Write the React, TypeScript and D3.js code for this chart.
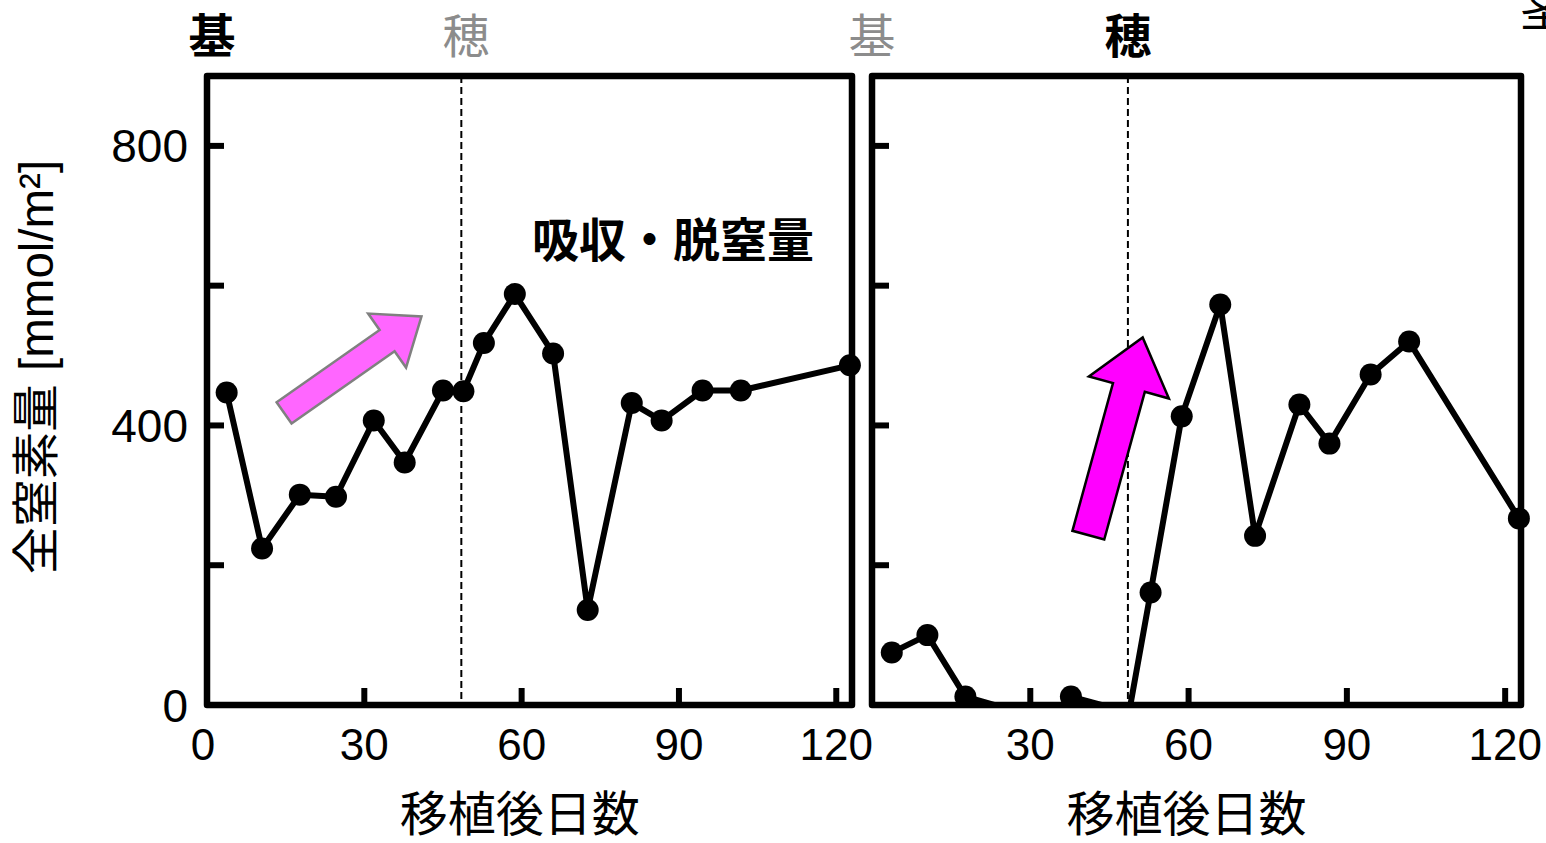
import React from 'react';
import * as d3 from 'd3';

// ---- data ----
const days = [3.75, 10.5, 17.7, 24.6, 31.8, 37.7, 45, 48.9, 52.8, 58.7, 66, 72.6, 81, 86.7, 94.5, 101.8, 122.6];
const stemValues = [447, 224, 301, 298, 407, 347, 450, 449, 518, 588, 503, 136, 432, 407, 450, 450, 486];
const panicleValues = [75, 100, 12, -3, -30, 12, -3, -3, 161, 413, 573, 242, 430, 374, 473, 520, 267];
const xTicks = [0, 30, 60, 90, 120];
const yTicks = [200, 400, 600, 800];
const yTickLabels = [0, 400, 800];
const headingDay = 48.5;
const xDomain = [0, 123];
const yDomain = [0, 900];

const W = 1546;
const H = 843;
const TOP = 76;
const BOTTOM = 705;
const CJK = '"Noto Sans CJK JP", "Noto Sans CJK SC", sans-serif';
const LAT = '"Liberation Sans", Arial, "Noto Sans CJK JP", sans-serif';

type Arrow = { from: [number, number]; to: [number, number]; shaft: number; headW: number; headL: number; fill: string; stroke: string };

const panels = [
  { id: 'stem', x0: 207, x1: 852, values: stemValues, yLabels: true, xLabelTicks: [0, 30, 60, 90, 120],
    arrow: { from: [14.7, 418], to: [40.9, 556], shaft: 26, headW: 66, headL: 42, fill: '#ff66ff', stroke: '#808080' } as Arrow },
  { id: 'panicle', x0: 872, x1: 1521, values: panicleValues, yLabels: false, xLabelTicks: [30, 60, 90, 120],
    arrow: { from: [41.0, 243], to: [51.3, 526], shaft: 33, headW: 83, headL: 52, fill: '#ff00ff', stroke: '#000000' } as Arrow },
];

function arrowPath(x: d3.ScaleLinear<number, number>, y: d3.ScaleLinear<number, number>, a: Arrow) {
  const tx = x(a.from[0]), ty = y(a.from[1]);
  const px = x(a.to[0]), py = y(a.to[1]);
  const len = Math.hypot(px - tx, py - ty);
  const ux = (px - tx) / len, uy = (py - ty) / len;
  const nx = -uy, ny = ux;
  const bx = px - ux * a.headL, by = py - uy * a.headL;
  const s = a.shaft / 2, h = a.headW / 2;
  const pts: [number, number][] = [
    [tx + nx * s, ty + ny * s],
    [bx + nx * s, by + ny * s],
    [bx + nx * h, by + ny * h],
    [px, py],
    [bx - nx * h, by - ny * h],
    [bx - nx * s, by - ny * s],
    [tx - nx * s, ty - ny * s],
  ];
  return 'M' + pts.map(p => p.join(',')).join('L') + 'Z';
}

export default function App() {
  const y = d3.scaleLinear().domain(yDomain).range([BOTTOM, TOP]);
  return (
    <svg width={W} height={H} style={{ position: 'absolute', left: 0, top: 0, background: '#fff' }}>
      <defs>
        <clipPath id="plotclip">
          <rect x={0} y={0} width={W} height={BOTTOM - 3} />
        </clipPath>
      </defs>

      {/* header labels */}
      <text x={212} y={53} textAnchor="middle" fontFamily={CJK} fontWeight="bold" fontSize={47} fill="#000">基</text>
      <text x={466} y={53} textAnchor="middle" fontFamily={CJK} fontSize={47} fill="#8c8c8c">穂</text>
      <text x={872} y={53} textAnchor="middle" fontFamily={CJK} fontSize={47} fill="#8c8c8c">基</text>
      <text x={1128} y={53} textAnchor="middle" fontFamily={CJK} fontWeight="bold" fontSize={47} fill="#000">穂</text>
      <text x={1520} y={26} fontFamily={CJK} fontSize={48} fill="#000">茎</text>

      {panels.map(p => {
        const x = d3.scaleLinear().domain(xDomain).range([p.x0, p.x1]);
        const pts = days.map((d, i) => [d, p.values[i]] as [number, number]);
        const line = d3.line<[number, number]>().x(d => x(d[0])).y(d => y(d[1]));
        return (
          <g key={p.id}>
            {/* heading date dashed line */}
            <line x1={x(headingDay)} x2={x(headingDay)} y1={TOP} y2={BOTTOM} stroke="#000" strokeWidth={2} strokeDasharray="7,4" />
            {/* arrow */}
            <path d={arrowPath(x, y, p.arrow)} fill={p.arrow.fill} stroke={p.arrow.stroke} strokeWidth={2.5} strokeLinejoin="miter" />
            {/* frame */}
            <rect x={p.x0} y={TOP} width={p.x1 - p.x0} height={BOTTOM - TOP} fill="none" stroke="#000" strokeWidth={6.5} strokeLinejoin="round" />
            {/* ticks */}
            {xTicks.filter(t => t > 0).map(t => (
              <line key={'xt' + t} x1={x(t)} x2={x(t)} y1={BOTTOM} y2={BOTTOM - 17} stroke="#000" strokeWidth={6} />
            ))}
            {yTicks.map(t => (
              <line key={'yt' + t} x1={p.x0} x2={p.x0 + 17} y1={y(t)} y2={y(t)} stroke="#000" strokeWidth={6} />
            ))}
            {/* data line */}
            <path d={line(pts) || ''} fill="none" stroke="#000" strokeWidth={6} strokeLinejoin="round" clipPath="url(#plotclip)" />
            {pts.filter(d => d[1] >= 0).map((d, i) => (
              <circle key={'m' + i} cx={x(d[0])} cy={y(d[1])} r={11} fill="#000" />
            ))}
            {/* x tick labels */}
            {p.xLabelTicks.map(t => (
              <text key={'xl' + t} x={x(t) - (t === 0 ? 4 : 0)} y={760} textAnchor="middle" fontFamily={LAT} fontSize={44} fill="#000">{t}</text>
            ))}
            {/* y tick labels */}
            {p.yLabels && yTickLabels.map(t => (
              <text key={'yl' + t} x={188} y={y(t) + 16.5} textAnchor="end" fontFamily={LAT} fontSize={46} fill="#000">{t}</text>
            ))}
            {/* x title */}
            <text x={(x(0) + x(120)) / 2 - 2} y={831} textAnchor="middle" fontFamily={CJK} fontSize={48} fill="#000">移植後日数</text>
          </g>
        );
      })}

      {/* annotation */}
      <text x={673} y={257} textAnchor="middle" fontFamily={CJK} fontWeight="bold" fontSize={47} fill="#000">吸収・脱窒量</text>

      {/* y title */}
      <text transform="translate(53,367) rotate(-90)" textAnchor="middle" fontFamily={LAT} fontSize={47.5} fill="#000">
        全窒素量 [mmol/m²]
      </text>
    </svg>
  );
}
